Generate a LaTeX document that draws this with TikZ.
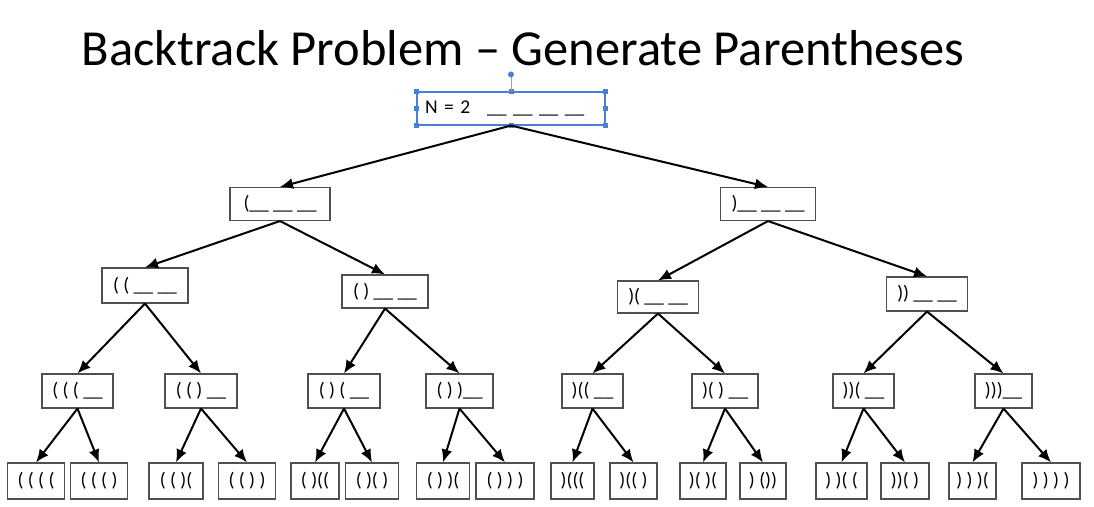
\documentclass[tikz,border=0pt]{standalone}
\usepackage{fontspec}
\setmainfont{Carlito}
\usetikzlibrary{arrows.meta}
\definecolor{boxgray}{HTML}{505050}
\definecolor{selblue}{HTML}{4A7FD8}
\newcommand{\gap}{\_\_}

\begin{document}
\begin{tikzpicture}[
  x=1pt,y=-1pt,
  every node/.style={font=\fontsize{19.5}{19.5}\selectfont},
  box/.style={draw=boxgray,line width=1.1pt,inner sep=0pt,minimum height=34pt},
  every path/.style={>={Latex[length=13pt,width=11pt]}},
  ]
  \useasboundingbox (0,0) rectangle (1094,506);
  \node[font=\fontsize{50.5}{50.5}\selectfont] (title) at (523,48) {Backtrack Problem – Generate Parentheses};

  % root, still selected
  \node[box,draw=selblue,inner xsep=8pt,text width=172pt,align=left,minimum height=33pt] (root) at (511,108.5)
    {N = 2\hspace{17pt}\gap\ \gap\ \gap\ \gap};
  \foreach \p in {north west,north,north east,east,south east,south,south west,west}
    \fill[selblue] (root.\p) ++(-2.5,-2.5) rectangle ++(5,5);
  \draw[selblue!70,line width=1pt] (root.north) -- ++(0,-15);
  \fill[selblue] (root.north) ++(0,-17) circle (3);

  % first choice
  \node[box,minimum width=100pt,minimum height=33pt] (o) at (280,204) {(\gap\ \gap\ \gap};
  \node[box,minimum width=95pt,minimum height=33pt] (c) at (768,204) {)\gap\ \gap\ \gap};

  % second choice
  \node[box,minimum width=86pt,minimum height=35pt] (oo) at (145,285.5) {( ( \gap\ \gap};
  \node[box,minimum width=86pt,minimum height=33pt] (oc) at (385,291.5) {( ) \gap\ \gap};
  \node[box,minimum width=81pt,minimum height=32pt] (co) at (658,297) {)( \gap\ \gap};
  \node[box,minimum width=81pt,minimum height=34pt] (cc) at (927,294) {)) \gap\ \gap};

  % third choice
  \node[box,minimum width=71pt] (ooo) at (77.5,391) {( ( ( \gap};
  \node[box,minimum width=72pt] (ooc) at (201,391) {( ( ) \gap};
  \node[box,minimum width=72pt] (oco) at (344,391) {( ) ( \gap};
  \node[box,minimum width=67pt] (occ) at (459.5,391) {( ) )\gap};
  \node[box,minimum width=61pt] (coo) at (592.5,391) {)(( \gap};
  \node[box,minimum width=66pt] (coc) at (725,391) {)( ) \gap};
  \node[box,minimum width=61pt] (cco) at (863.5,391) {))( \gap};
  \node[box,minimum width=57pt] (ccc) at (1003.5,391) {)))\gap};

  % fourth choice
  \node[box,minimum width=57pt,minimum height=36pt] (oooo) at (36,481) {( ( ( (};
  \node[box,minimum width=57pt,minimum height=36pt] (oooc) at (99,481) {( ( ( )};
  \node[box,minimum width=54pt,minimum height=36pt] (ooco) at (176,481) {( ( )(};
  \node[box,minimum width=57pt,minimum height=36pt] (oocc) at (247,481) {( ( ) )};
  \node[box,minimum width=48pt,minimum height=36pt] (ocoo) at (315,481) {( )((};
  \node[box,minimum width=53pt,minimum height=36pt] (ococ) at (372,481) {( )( )};
  \node[box,minimum width=53pt,minimum height=36pt] (occo) at (443,481) {( ) )(};
  \node[box,minimum width=58pt,minimum height=36pt] (occc) at (505,481) {( ) ) )};
  \node[box,minimum width=43pt,minimum height=36pt] (cooo) at (572.5,481) {)(((};
  \node[box,minimum width=47pt,minimum height=36pt] (cooc) at (633.5,481) {)(( )};
  \node[box,minimum width=46pt,minimum height=36pt] (coco) at (703,481) {)( )(};
  \node[box,minimum width=46pt,minimum height=36pt] (cocc) at (763,481) {) ())};
  \node[box,minimum width=51pt,minimum height=36pt] (ccoo) at (841.5,481) {) )( (};
  \node[box,minimum width=48pt,minimum height=36pt] (ccoc) at (905,481) {))( )};
  \node[box,minimum width=47pt,minimum height=36pt] (ccco) at (972.5,481) {) ) )(};
  \node[box,minimum width=58pt,minimum height=36pt] (cccc) at (1051,481) {) ) ) )};

  \draw[->,line width=2pt] (root.south) -- (o.north);
  \draw[->,line width=2pt] (root.south) -- (c.north);
  \foreach \a in {o,c,oo,oc,co,cc,ooo,ooc,oco,occ,coo,coc,cco,ccc}
    \foreach \b in {o,c}
      \draw[->,line width=2pt] (\a.south) -- (\a\b.north);
\end{tikzpicture}
\end{document}
